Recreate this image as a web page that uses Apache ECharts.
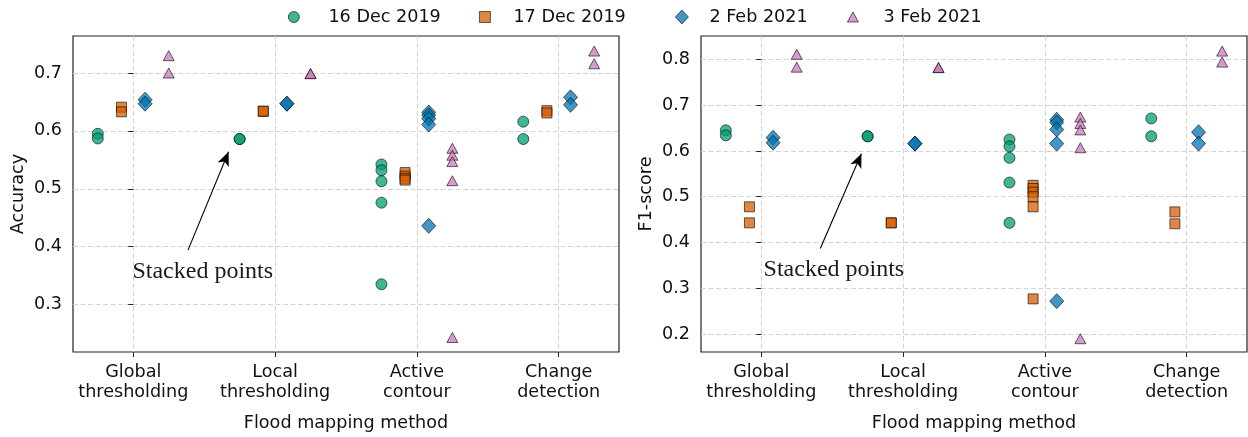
<!DOCTYPE html>
<html>
<head>
<meta charset="utf-8">
<script src="https://cdn.jsdelivr.net/npm/echarts@6/dist/echarts.min.js"></script>
<style>
  html, body { margin: 0; padding: 0; background: #fff; }
  #chart { width: 1248px; height: 437px; }
</style>
</head>
<body>
<div id="chart"></div>
<script>
// categories and legend entries
var methods = ['Global\nthresholding', 'Local\nthresholding', 'Active\ncontour', 'Change\ndetection'];
var dates = ['16 Dec 2019', '17 Dec 2019', '2 Feb 2021', '3 Feb 2021'];

// accuracy, one list per method
var accDec16 = [[0.595, 0.587], [0.586, 0.586], [0.542, 0.532, 0.513, 0.476, 0.335], [0.616, 0.586]];
var accDec17 = [[0.641, 0.633], [0.634, 0.634], [0.528, 0.522, 0.518, 0.515], [0.635, 0.631]];
var accFeb2 = [[0.654, 0.647], [0.647, 0.647], [0.632, 0.627, 0.621, 0.611, 0.436], [0.658, 0.645]];
var accFeb3 = [[0.730, 0.700], [0.699, 0.699], [0.570, 0.558, 0.547, 0.514, 0.243], [0.738, 0.716]];

// F1-score, one list per method
var f1Dec16 = [[0.645, 0.634], [0.632, 0.632], [0.625, 0.610, 0.585, 0.531, 0.443], [0.671, 0.632]];
var f1Dec17 = [[0.478, 0.443], [0.443, 0.443], [0.525, 0.518, 0.510, 0.500, 0.478, 0.277], [0.467, 0.441]];
var f1Feb2 = [[0.629, 0.618], [0.616, 0.616], [0.668, 0.662, 0.647, 0.616, 0.272], [0.641, 0.616]];
var f1Feb3 = [[0.811, 0.783], [0.782, 0.782], [0.674, 0.660, 0.646, 0.607, 0.190], [0.818, 0.794]];

// tick labels
var xTicks = [0, 1, 2, 3];
var accTicks = [0.3, 0.4, 0.5, 0.6, 0.7];
var f1Ticks = [0.2, 0.3, 0.4, 0.5, 0.6, 0.7, 0.8];

var accSets = [accDec16, accDec17, accFeb2, accFeb3];
var f1Sets = [f1Dec16, f1Dec17, f1Feb2, f1Feb3];

// styling
var colors = ['#029E73', '#D55E00', '#0173B2', '#CC78BC'];
var symbols = ['circle', 'rect', 'diamond', 'triangle'];
var sizes = [11, 10, [14, 15], [11, 10]];
var offsets = [-0.25, -0.0833, 0.0833, 0.25];
var font = 'DejaVu Sans';
var fs = 17.6;

function points(groups, k) {
    var out = [];
    groups.forEach(function (vals, i) {
        vals.forEach(function (v) {
            out.push([i + offsets[k], v]);
        });
    });
    return out;
}

function xAxis(idx) {
    return {
        type: 'value', gridIndex: idx, min: -0.425, max: 3.425,
        name: 'Flood mapping method', nameLocation: 'middle', nameGap: 62,
        nameTextStyle: { fontFamily: font, fontSize: fs, color: '#111' },
        axisLine: { show: false },
        axisTick: { show: true, customValues: xTicks, length: 5, lineStyle: { color: '#222', width: 1 } },
        axisLabel: {
            customValues: xTicks, margin: 10, fontFamily: font, fontSize: fs, color: '#111',
            lineHeight: 20, align: 'center',
            formatter: function (v) { return methods[Math.round(v)]; }
        },
        splitLine: { show: true, lineStyle: { color: '#d4d4d4', type: [5, 2.5], width: 1 } }
    };
}

function yAxis(idx, name, range, ticks) {
    return {
        type: 'value', gridIndex: idx, min: range[0], max: range[1],
        name: name, nameLocation: 'middle', nameGap: 46,
        nameTextStyle: { fontFamily: font, fontSize: fs, color: '#111' },
        axisLine: { show: false },
        axisTick: { show: true, customValues: ticks, length: 5, lineStyle: { color: '#222', width: 1 } },
        axisLabel: { customValues: ticks, margin: 11, fontFamily: font, fontSize: fs, color: '#111',
            formatter: function (v) { return v.toFixed(1); } },
        splitLine: { show: true, lineStyle: { color: '#d4d4d4', type: [5, 2.5], width: 1 } }
    };
}

function annotation(idx, tail, tip, textAt) {
    return {
        type: 'scatter', xAxisIndex: idx, yAxisIndex: idx, data: [], silent: true,
        markLine: {
            silent: true, animation: false,
            symbol: ['none', 'arrow'], symbolSize: [9, 14],
            lineStyle: { color: '#000', width: 1.1, type: 'solid' },
            label: { show: false },
            data: [[{ coord: tail }, { coord: tip }]]
        },
        markPoint: {
            silent: true, animation: false,
            symbol: 'circle', symbolSize: 1,
            itemStyle: { color: 'rgba(0,0,0,0)' },
            label: { show: true, position: 'inside', formatter: 'Stacked points',
                fontFamily: 'Liberation Serif', fontSize: 24, color: '#1a1a1a' },
            data: [{ coord: textAt }]
        }
    };
}

var series = [];
[accSets, f1Sets].forEach(function (sets, p) {
    sets.forEach(function (groups, k) {
        series.push({
            type: 'scatter', name: dates[k], xAxisIndex: p, yAxisIndex: p,
            symbol: symbols[k], symbolSize: sizes[k],
            itemStyle: { color: colors[k], opacity: 0.75, borderColor: '#000', borderWidth: 0.8 },
            emphasis: { disabled: true },
            data: points(groups, k)
        });
    });
});
series.push(annotation(0, [0.386, 0.394], [0.672, 0.564], [0.49, 0.357]));
series.push(annotation(1, [0.416, 0.387], [0.706, 0.594], [0.512, 0.341]));

var legendLeft = [288, 479, 675, 847];
var legendPad = [24, 18, 16, 20];
var legendSize = [[11, 11], [11, 11], [13, 14], [11, 10]];

var option = {
    animation: false,
    grid: [
        { left: 73, top: 36, width: 546, height: 316, show: true, borderColor: '#222', borderWidth: 1.2 },
        { left: 701, top: 36, width: 546, height: 316, show: true, borderColor: '#222', borderWidth: 1.2 }
    ],
    legend: dates.map(function (d, k) {
        return {
            data: [{ name: d, icon: symbols[k] }],
            left: legendLeft[k], top: 8, padding: 0, selectedMode: false,
            itemWidth: legendSize[k][0], itemHeight: legendSize[k][1],
            itemStyle: { borderColor: '#000', borderWidth: 0.8 },
            textStyle: { fontFamily: font, fontSize: fs, color: '#111', padding: [0, 0, 0, legendPad[k]] }
        };
    }),
    xAxis: [xAxis(0), xAxis(1)],
    yAxis: [yAxis(0, 'Accuracy', [0.218, 0.764], accTicks), yAxis(1, 'F1-score', [0.161, 0.851], f1Ticks)],
    series: series
};

var chart = echarts.init(document.getElementById('chart'));
chart.setOption(option);
</script>
</body>
</html>
